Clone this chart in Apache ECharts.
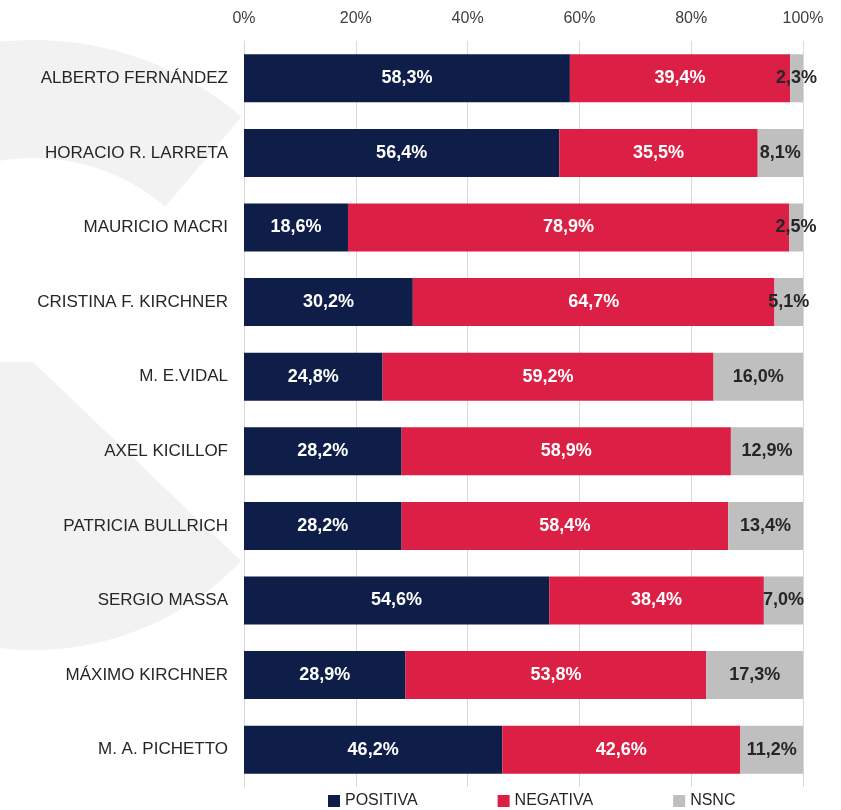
<!DOCTYPE html>
<html>
<head>
<meta charset="utf-8">
<script src="https://cdn.jsdelivr.net/npm/echarts@6/dist/echarts.min.js"></script>
<style>
  html, body { margin: 0; padding: 0; background: #fff; }
  #chart { width: 841px; height: 810px; }
</style>
</head>
<body>
<div id="chart"></div>
<script>
const categories = ['ALBERTO FERNÁNDEZ', 'HORACIO R. LARRETA', 'MAURICIO MACRI', 'CRISTINA F. KIRCHNER', 'M. E.VIDAL',
  'AXEL KICILLOF', 'PATRICIA BULLRICH', 'SERGIO MASSA', 'MÁXIMO KIRCHNER', 'M. A. PICHETTO'];
const positiva = [58.3, 56.4, 18.6, 30.2, 24.8, 28.2, 28.2, 54.6, 28.9, 46.2];
const negativa = [39.4, 35.5, 78.9, 64.7, 59.2, 58.9, 58.4, 38.4, 53.8, 42.6];
const nsnc = [2.3, 8.1, 2.5, 5.1, 16.0, 12.9, 13.4, 7.0, 17.3, 11.2];
const xTicks = [0, 20, 40, 60, 80, 100];

const FONT = '"Liberation Sans", Arial, sans-serif';

// formato con coma decimal
function pct(v) {
  return v.toFixed(1).replace('.', ',') + '%';
}

function barSeries(name, data, color, labelColor) {
  return {
    name: name,
    type: 'bar',
    stack: 'total',
    barWidth: 48,
    data: data,
    itemStyle: { color: color },
    label: {
      show: true,
      position: 'inside',
      color: labelColor,
      fontFamily: FONT,
      fontSize: 18,
      fontWeight: 'bold',
      formatter: p => pct(p.value)
    }
  };
}

const chart = echarts.init(document.getElementById('chart'));
chart.setOption({
  backgroundColor: '#fff',
  animation: false,
  textStyle: { fontFamily: FONT },
  // marca de agua gris claro a la izquierda
  graphic: [
    {
      type: 'sector', z: -10, silent: true,
      shape: { cx: 33, cy: 362, r: 322, r0: 204, startAngle: Math.PI, endAngle: 2 * Math.PI - 0.866, clockwise: true },
      style: { fill: '#f2f2f2' }
    },
    {
      type: 'sector', z: -10, silent: true,
      shape: { cx: 33, cy: 362, r: 288, r0: 0, startAngle: 0.763, endAngle: Math.PI, clockwise: true },
      style: { fill: '#f2f2f2' }
    }
  ],
  grid: { left: 244, right: 38, top: 41, bottom: 23, containLabel: false },
  legend: {
    data: ['POSITIVA', 'NEGATIVA', 'NSNC'],
    left: 328,
    top: 793,
    padding: 0,
    itemWidth: 12,
    itemHeight: 12,
    itemGap: 80,
    icon: 'rect',
    textStyle: { fontFamily: FONT, fontSize: 16, color: '#262626' }
  },
  xAxis: {
    type: 'value',
    position: 'top',
    min: xTicks[0],
    max: xTicks[xTicks.length - 1],
    interval: 20,
    axisLine: { show: false },
    axisTick: { show: false },
    axisLabel: { fontSize: 16, color: '#404040', margin: 14, formatter: '{value}%' },
    splitLine: { show: true, lineStyle: { color: '#d9d9d9', width: 1 } }
  },
  yAxis: {
    type: 'category',
    inverse: true,
    data: categories,
    axisLine: { show: true, lineStyle: { color: '#d9d9d9', width: 1 } },
    axisTick: { show: false },
    axisLabel: { fontSize: 17, color: '#262626', margin: 16 }
  },
  series: [
    barSeries('POSITIVA', positiva, '#0f1e48', '#ffffff'),
    barSeries('NEGATIVA', negativa, '#dc1f45', '#ffffff'),
    barSeries('NSNC', nsnc, '#bfbfbf', '#262626')
  ]
});
</script>
</body>
</html>
